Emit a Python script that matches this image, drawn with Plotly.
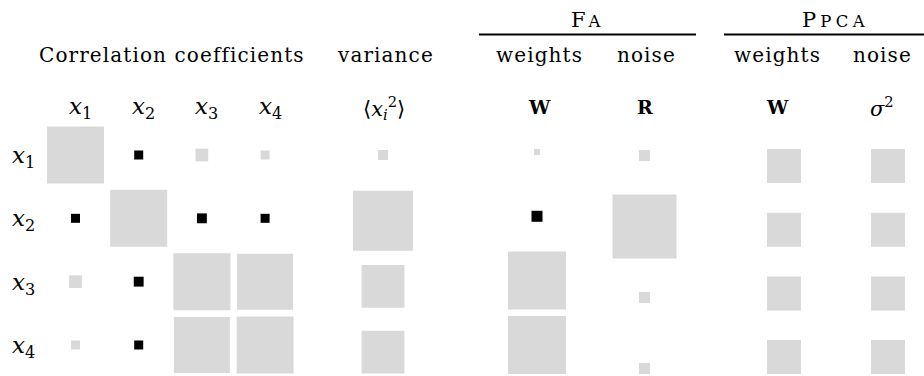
import numpy as np
import plotly.graph_objects as go

# ---------------- data ----------------
VARS = ["x1", "x2", "x3", "x4"]
VAR_SUBS = ["1", "2", "3", "4"]

# correlation coefficients (rows x columns)
CORR = [
    [1.000, -0.025, 0.050, 0.025],
    [-0.025, 1.000, -0.030, -0.025],
    [0.050, -0.030, 1.000, 0.965],
    [0.025, -0.025, 0.965, 1.000],
]
VARIANCE = [0.028, 1.000, 0.510, 0.510]      # <x_i^2>
FA_WEIGHTS = [0.011, -0.036, 1.000, 1.000]   # W
FA_NOISE = [0.030, 1.000, 0.030, 0.030]      # R
PPCA_WEIGHTS = [0.70, 0.70, 0.70, 0.70]      # W
PPCA_NOISE = [0.50, 0.50, 0.50, 0.50]        # sigma^2

# ---------------- style / layout ----------------
W, H = 924, 376
POS = "#d9d9d9"
NEG = "#000000"
FONT = "DejaVu Serif, Liberation Serif, serif"
FS = 20
LS = 1.1

fig = go.Figure()


def xdom(c0, pitch, n):
    lo = max(0.0, c0 - pitch / 2)
    hi = min(float(W), c0 + (n - 1) * pitch + pitch / 2)
    return [lo / W, hi / W], [(lo - c0) / pitch, (hi - c0) / pitch]


def ydom(r0, pitch):
    top = r0 - pitch / 2
    bot = H
    rng = [(bot - r0) / pitch, (top - r0) / pitch]
    return [(H - bot) / H, (H - top) / H], rng


def hinton(values, xcats, ycats, full_px, ax_id):
    v = np.asarray(values, dtype=float)
    m = np.abs(v).max()
    sizes = full_px * np.sqrt(np.abs(v) / m)
    colors = [POS if a >= 0 else NEG for a in v.ravel()]
    fig.add_trace(go.Scatter(
        x=xcats, y=ycats, mode="markers",
        marker=dict(symbol="square", size=sizes.ravel(), color=colors,
                    line=dict(width=0), opacity=1),
        xaxis="x" + ax_id, yaxis="y" + ax_id,
        cliponaxis=False, hoverinfo="skip", showlegend=False))


# panels: (x first center, x pitch, ncols, y first center, y pitch)
PANELS = {
    "":  (75.5, 63.2, 4, 155.0, 63.33),
    "2": (383.0, 60.0, 1, 155.0, 65.7),
    "3": (537.0, 60.0, 1, 152.0, 64.3),
    "4": (644.5, 60.0, 1, 155.5, 71.0),
    "5": (784.0, 104.0, 2, 166.0, 63.7),
}

layout_axes = {}
for aid, (c0, pit, n, r0, q) in PANELS.items():
    xd, xr = xdom(c0, pit, n)
    yd, yr = ydom(r0, q)
    layout_axes["xaxis" + aid] = dict(domain=xd, range=xr, visible=False, fixedrange=True,
                                      anchor="y" + aid, type="category")
    layout_axes["yaxis" + aid] = dict(domain=yd, range=yr, visible=False, fixedrange=True,
                                      anchor="x" + aid, type="category")

# correlation matrix
cx, cy, cv = [], [], []
for i, r in enumerate(VARS):
    for j, c in enumerate(VARS):
        cx.append(c); cy.append(r); cv.append(CORR[i][j])
hinton(cv, cx, cy, 57, "")
hinton(VARIANCE, ["v"] * 4, VARS, 60, "2")
hinton(FA_WEIGHTS, ["W"] * 4, VARS, 58, "3")
hinton(FA_NOISE, ["R"] * 4, VARS, 64, "4")
hinton(PPCA_WEIGHTS, ["W"] * 4, VARS, 34, "5")
hinton(PPCA_NOISE, ["s"] * 4, VARS, 34, "5")

ann = []


def sp(t, ls=LS, size=None, extra=""):
    st = f"letter-spacing:{ls}px;"
    if size:
        st += f"font-size:{size}px;"
    return f'<span style="{st}{extra}">{t}</span>'


def text(t, x, y, size=FS, xref="paper", yref="paper", xshift=0, yshift=0):
    ann.append(dict(text=t, x=x, y=y, xref=xref, yref=yref, showarrow=False,
                    xanchor="center", yanchor="middle", xshift=xshift, yshift=yshift,
                    font=dict(family=FONT, size=size, color="#000")))


def px(xp):
    return xp / W


def py(yp):
    return (H - yp) / H


ROW1 = 55
ROW2 = 108
text(sp("Correlation coefficients"), px(171.5), py(ROW1))
text(sp("variance"), px(385), py(ROW1))
text(sp("weights"), px(539.5), py(ROW1))
text(sp("noise"), px(646), py(ROW1))
text(sp("weights"), px(777.5), py(ROW1))
text(sp("noise"), px(882.5), py(ROW1))


def xlab(sub):
    return "<i>x</i><sub>" + sub + "</sub>"


for c, s in zip(VARS, VAR_SUBS):
    text(xlab(s), c, py(ROW2), size=23, xref="x", xshift=5)
    text(xlab(s), px(23.5), c, size=23, yref="y", yshift=-2)
text("\u27e8<i>x</i><sub><i>i</i></sub><sup>2</sup>\u27e9", px(383.5), py(ROW2), size=21)
text("<b>W</b>", px(539), py(ROW2 - 1), size=19)
text("<b>R</b>", px(645), py(ROW2 - 1), size=19)
text("<b>W</b>", px(777), py(ROW2 - 1), size=19)
text("<i>\u03c3</i><sup>2</sup>", px(882), py(ROW2 - 1), size=21)

text(sp("F", 3, 21) + sp("A", 3, 16.5), px(587), py(20), size=21)
text(sp("P", 4, 21) + sp("PCA", 4.5, 16.5), px(835), py(20), size=21)

shapes = [
    dict(type="line", xref="paper", yref="paper", x0=px(479), x1=px(696),
         y0=py(34.5), y1=py(34.5), line=dict(color="#000", width=2)),
    dict(type="line", xref="paper", yref="paper", x0=px(724), x1=px(924),
         y0=py(34.5), y1=py(34.5), line=dict(color="#000", width=2)),
]

fig.update_layout(
    width=W, height=H, margin=dict(l=0, r=0, t=0, b=0),
    paper_bgcolor="white", plot_bgcolor="rgba(0,0,0,0)",
    font=dict(family=FONT, size=FS, color="#000"),
    annotations=ann, shapes=shapes, showlegend=False,
    **layout_axes,
)
fig.write_html("out.html", config={"displayModeBar": False},
               post_script="document.body.style.margin='0';"
                           "document.body.style.overflow='hidden';")
